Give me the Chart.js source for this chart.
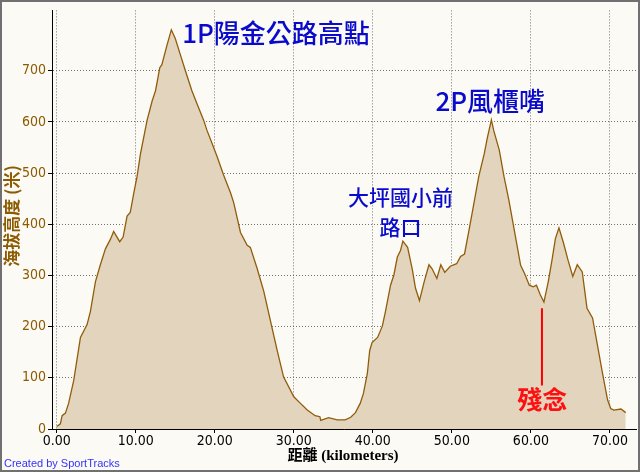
<!DOCTYPE html>
<html>
<head>
<meta charset="utf-8">
<script src="https://cdn.jsdelivr.net/npm/chart.js@4"></script>
<style>
  body { margin: 0; background: #fbfaf4; }
  canvas { display: block; }
</style>
</head>
<body>
<canvas id="chart" width="640" height="472"></canvas>
<script>
// elevation profile (distance in km, elevation in m)
const distanceKm = [0, 0.46, 0.68, 1.1, 1.5, 2.15, 3.0, 3.84, 4.26, 4.9, 5.5, 6.16, 6.8, 7.2, 7.97, 8.4, 8.9, 9.3, 9.75, 10.17,
  10.6, 11.43, 12.07, 12.5, 13.04, 13.3, 13.97, 14.5, 15.0, 15.65, 16.3, 17.1, 17.76, 18.6, 19.0, 19.66, 20.3, 21.1, 22.0, 22.4,
  23.25, 24.1, 24.5, 25.35, 26.2, 27.05, 27.9, 28.7, 30.0, 30.84, 31.7, 32.7, 33.3, 33.4, 34.4, 35.5, 36.5, 37.2, 37.8, 38.4,
  38.8, 39.3, 39.6, 39.9, 40.6, 41.2, 41.6, 42.24, 42.66, 43.1, 43.5, 43.8, 44.4, 44.98, 45.4, 45.9, 46.5, 47.1, 47.5, 48.1,
  48.6, 49.1, 49.8, 50.6, 51.1, 51.6, 52.2, 52.8, 53.4, 54.1, 54.5, 55.0, 55.3, 56.0, 56.6, 57.2, 57.8, 58.7, 59.2, 59.8,
  60.3, 60.7, 61.2, 61.65, 62.2, 62.7, 63.1, 63.55, 64.1, 64.7, 65.3, 65.87, 66.5, 67.1, 67.8, 68.4, 69.0, 69.7, 70.1, 70.5,
  71.4, 72.0];
const elevationM = [5, 10, 26, 31, 50, 95, 179, 204, 230, 288, 320, 352, 371, 386, 366, 375, 416, 423, 461, 494,
  538, 603, 641, 661, 706, 712, 751, 780, 763, 731, 699, 661, 635, 603, 584, 558, 532, 497, 461, 442,
  384, 359, 355, 314, 269, 211, 153, 102, 63, 50, 37, 26, 24, 17, 22, 18, 18, 23, 32, 50,
  69, 108, 153, 169, 179, 201, 230, 281, 301, 336, 349, 367, 355, 313, 275, 251, 288, 321, 313, 294,
  321, 306, 318, 323, 337, 342, 391, 442, 493, 538, 570, 604, 583, 545, 493, 448, 397, 320, 304, 281,
  278, 281, 262, 248, 288, 333, 372, 393, 365, 330, 298, 321, 307, 236, 217, 166, 114, 57, 40, 37,
  39, 32];

const xTickValues = [0, 10, 20, 30, 40, 50, 60, 70];
const xTickLabels = ['0.00', '10.00', '20.00', '30.00', '40.00', '50.00', '60.00', '70.00'];
const yTickValues = [0, 100, 200, 300, 400, 500, 600, 700];
const yTickLabels = ['0', '100', '200', '300', '400', '500', '600', '700'];

// red marker line under 殘念
const markerX = [61.4, 61.4];
const markerY = [85, 236];

// annotations, anchored in data coordinates
const notes = [
  { text: '1P陽金公路高點', x: 27.75, y: 774, kind: 'big' },
  { text: '2P風櫃嘴', x: 54.86, y: 641, kind: 'big' },
  { text: '大坪國小前', x: 43.5, y: 454, kind: 'small' },
  { text: '路口', x: 43.5, y: 394, kind: 'small' },
  { text: '殘念', x: 61.44, y: 57, kind: 'red' }
];

const noteStyles = {
  big: { font: '500 26px "Noto Sans CJK TC"', color: '#0a0acd' },
  small: { font: '500 21px "Noto Sans CJK TC"', color: '#0a0acd' },
  red: { font: 'bold 25px "Noto Sans CJK TC"', color: '#ff1010' }
};

const tickFont = { family: '"Liberation Sans Narrow", "DejaVu Sans Condensed", "Liberation Sans", sans-serif', size: 14 };

const framePlugin = {
  id: 'frame',
  beforeDraw(chart) {
    const ctx = chart.ctx;
    ctx.save();
    ctx.fillStyle = '#fbfaf4';
    ctx.fillRect(0, 0, chart.width, chart.height);
    ctx.restore();
  },
  afterDatasetsDraw(chart) {
    const ctx = chart.ctx;
    const xs = chart.scales.x, ys = chart.scales.y;
    ctx.save();
    ctx.textAlign = 'center';
    ctx.textBaseline = 'middle';
    notes.forEach(n => {
      const st = noteStyles[n.kind];
      ctx.font = st.font;
      ctx.fillStyle = st.color;
      ctx.fillText(n.text, xs.getPixelForValue(n.x), ys.getPixelForValue(n.y));
    });
    ctx.restore();
  },
  afterDraw(chart) {
    const ctx = chart.ctx;
    ctx.save();
    // y title
    ctx.translate(12, 216);
    ctx.rotate(-Math.PI / 2);
    ctx.textAlign = 'center';
    ctx.textBaseline = 'middle';
    ctx.font = 'bold 17px "Noto Sans CJK TC"';
    ctx.fillStyle = '#8c5a00';
    ctx.fillText('海拔高度 (米)', 0, 0);
    ctx.restore();

    ctx.save();
    ctx.textAlign = 'center';
    ctx.textBaseline = 'middle';
    ctx.font = 'bold 15px "Liberation Serif", "Noto Sans CJK TC"';
    ctx.fillStyle = '#000';
    ctx.fillText('距離 (kilometers)', 343, 456);

    ctx.textAlign = 'left';
    ctx.font = '11px "Liberation Sans"';
    ctx.fillStyle = '#3333ff';
    ctx.fillText('Created by SportTracks', 4, 464);

    ctx.strokeStyle = '#707070';
    ctx.lineWidth = 2;
    ctx.strokeRect(1, 1, chart.width - 2, chart.height - 2);
    ctx.restore();
  }
};

new Chart(document.getElementById('chart'), {
  type: 'line',
  data: {
    datasets: [
      {
        data: distanceKm.map((d, i) => ({ x: d, y: elevationM[i] })),
        borderColor: '#915c0a',
        borderWidth: 1.3,
        backgroundColor: '#e2d4bd',
        fill: 'origin',
        pointRadius: 0,
        tension: 0,
        order: 2
      },
      {
        data: markerX.map((d, i) => ({ x: d, y: markerY[i] })),
        borderColor: '#ff0000',
        borderWidth: 2,
        fill: false,
        pointRadius: 0,
        order: 1
      }
    ]
  },
  options: {
    responsive: false,
    animation: false,
    devicePixelRatio: 1,
    layout: { padding: { top: 5, right: 4, left: 0, bottom: 0 } },
    plugins: { legend: { display: false }, tooltip: { enabled: false } },
    scales: {
      x: {
        type: 'linear',
        min: -0.6,
        max: 73.3,
        z: 1,
        afterFit: s => { s.height = 43; },
        afterBuildTicks: s => { s.ticks = xTickValues.map(v => ({ value: v })); },
        ticks: {
          callback: (v, i) => xTickLabels[i],
          color: '#000',
          font: tickFont,
          padding: 0,
          maxRotation: 0
        },
        grid: { display: true, drawOnChartArea: true, lineWidth: 1, color: '#727272', tickColor: '#000', tickLength: 4 },
        border: { color: '#000', width: 1, dash: [1, 2] }
      },
      y: {
        min: 0,
        max: 818,
        z: 1,
        afterFit: s => { s.width = 52; },
        afterBuildTicks: s => { s.ticks = yTickValues.map(v => ({ value: v })); },
        ticks: {
          callback: (v, i) => yTickLabels[i],
          color: '#8c5a00',
          font: tickFont,
          padding: 2
        },
        grid: { display: true, drawOnChartArea: true, lineWidth: 1, color: '#727272', tickColor: '#000', tickLength: 4 },
        border: { color: '#000', width: 1, dash: [1, 2] }
      }
    }
  },
  plugins: [framePlugin]
});
</script>
</body>
</html>
